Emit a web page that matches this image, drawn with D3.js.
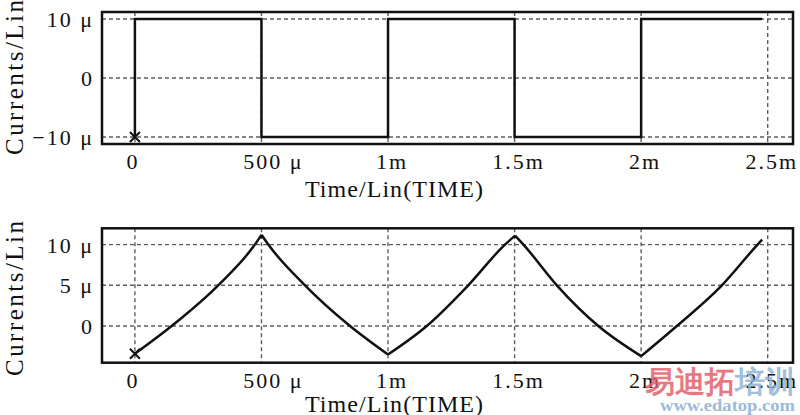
<!DOCTYPE html>
<html>
<head>
<meta charset="utf-8">
<script src="https://cdn.jsdelivr.net/npm/d3@7"></script>
<style>
  html, body { margin: 0; padding: 0; background: #fff; }
  svg { display: block; }
  text { font-family: "Liberation Serif", "DejaVu Serif", serif; fill: #111; }
</style>
</head>
<body>
<svg id="chart" width="800" height="415"></svg>
<script>
// ---- data (time in µs, current in µA) ----
const xTickValues = [0, 500, 1000, 1500, 2000, 2500];
const xTickLabels = ["0", "500 μ", "1m", "1.5m", "2m", "2.5m"];

const squareTicks = [10, 0, -10];
const squareTickLabels = ["10 μ", "0", "−10 μ"];
const squareTime  = [0, 0, 500, 500, 1000, 1000, 1500, 1500, 2000, 2000, 2478];
const squareValue = [-10, 10, 10, -10, -10, 10, 10, -10, -10, 10, 10];

const triTicks = [10, 5, 0];
const triTickLabels = ["10 μ", "5 μ", "0"];
const triTime  = [0, 145, 329, 474, 500, 527, 672, 850, 1000, 1153, 1317, 1462, 1502, 1535, 1667, 1831, 2000, 2141, 2319, 2460, 2478];
const triValue = [-3.4, 0, 5, 10, 11.2, 10, 5, 0, -3.5, 0, 5, 10, 11.1, 10, 5, 0, -3.7, 0, 5, 10, 10.6];

const xTitle = "Time/Lin(TIME)";
const yTitle = "Currents/Lin";

// ---- drawing ----
const svg = d3.select("#chart");

const x = d3.scaleLinear().domain([-130, 2600]).range([102, 793]);

// split a trace into monotone runs (shared turning points) so each run can be smoothed
function monotoneRuns(pts) {
  const runs = [];
  let cur = [pts[0]];
  let dir = 0;
  for (let i = 1; i < pts.length; i++) {
    const d = Math.sign(pts[i][1] - pts[i - 1][1]);
    if (dir !== 0 && d !== 0 && d !== dir) {
      runs.push(cur);
      cur = [pts[i - 1]];
    }
    if (d !== 0) dir = d;
    cur.push(pts[i]);
  }
  runs.push(cur);
  return runs;
}

function panel(cfg) {
  const y = d3.scaleLinear().domain(cfg.yDomain).range([cfg.bottom, cfg.top]);
  const g = svg.append("g");

  // grid
  g.selectAll("line.vg").data(xTickValues).enter().append("line")
    .attr("x1", d => x(d)).attr("x2", d => x(d))
    .attr("y1", cfg.top).attr("y2", cfg.bottom)
    .attr("stroke", "#5e5e5e").attr("stroke-width", 1.4).attr("stroke-dasharray", "4,3");
  g.selectAll("line.hg").data(cfg.yTicks).enter().append("line")
    .attr("x1", x.range()[0]).attr("x2", x.range()[1])
    .attr("y1", d => y(d)).attr("y2", d => y(d))
    .attr("stroke", "#5e5e5e").attr("stroke-width", 1.4).attr("stroke-dasharray", "4,3");

  // trace
  const pts = cfg.t.map((t, i) => [t, cfg.v[i]]);
  if (cfg.smooth) {
    const line = d3.line().x(d => x(d[0])).y(d => y(d[1])).curve(d3.curveMonotoneX);
    g.append("path")
      .attr("d", monotoneRuns(pts).map(r => line(r)).join(""))
      .attr("fill", "none").attr("stroke", "#111").attr("stroke-width", 2.5)
      .attr("stroke-linejoin", "round");
  } else {
    g.append("path").datum(pts)
      .attr("d", d3.line().x(d => x(d[0])).y(d => y(d[1])))
      .attr("fill", "none").attr("stroke", "#111").attr("stroke-width", 2.5);
  }

  // start marker
  const mx = x(pts[0][0]), my = y(pts[0][1]), s = 5;
  g.append("path")
    .attr("d", `M${mx - s},${my - s}L${mx + s},${my + s}M${mx - s},${my + s}L${mx + s},${my - s}`)
    .attr("stroke", "#111").attr("stroke-width", 2);

  // frame
  g.append("rect")
    .attr("x", x.range()[0]).attr("y", cfg.top)
    .attr("width", x.range()[1] - x.range()[0]).attr("height", cfg.bottom - cfg.top)
    .attr("fill", "none").attr("stroke", "#111").attr("stroke-width", 2.5);

  // y tick labels
  g.selectAll("text.yl").data(cfg.yTicks).enter().append("text")
    .attr("x", 94).attr("y", d => y(d)).attr("dy", "0.36em")
    .attr("text-anchor", "end")
    .attr("font-size", 22).attr("letter-spacing", 2)
    .text((d, i) => cfg.yLabels[i]);

  // x tick labels
  g.selectAll("text.xl").data(xTickValues).enter().append("text")
    .attr("x", (d, i) => x(d) + (xTickLabels[i].includes("μ") ? 12 : (d === 0 ? -2 : 4)))
    .attr("y", cfg.bottom + 25)
    .attr("text-anchor", "middle")
    .attr("font-size", 22).attr("letter-spacing", 2)
    .text((d, i) => xTickLabels[i]);

  // x title
  g.append("text")
    .attr("x", 305).attr("y", cfg.bottom + cfg.xTitleGap)
    .attr("font-size", 24)
    .attr("textLength", 178).attr("lengthAdjust", "spacing")
    .text(xTitle);

  // y title
  g.append("text")
    .attr("transform", `translate(23,${cfg.yTitleBottom}) rotate(-90)`)
    .attr("font-size", 25)
    .attr("textLength", 155).attr("lengthAdjust", "spacing")
    .text(yTitle);
}

panel({ top: 12, bottom: 144, yDomain: [-11.2, 11.2], yTicks: squareTicks, yLabels: squareTickLabels,
        t: squareTime, v: squareValue, smooth: false, yTitleBottom: 155, xTitleGap: 53 });
panel({ top: 228.3, bottom: 362.7, yDomain: [-4.5, 12], yTicks: triTicks, yLabels: triTickLabels,
        t: triTime, v: triValue, smooth: true, yTitleBottom: 376, xTitleGap: 49.5 });

// watermark
svg.append("text").attr("x", 645).attr("y", 392)
  .attr("font-family", "Noto Sans CJK SC").attr("font-weight", "bold").attr("font-size", 30)
  .style("fill", "#e4606c").attr("opacity", 0.85).text("易迪拓");
svg.append("text").attr("x", 735).attr("y", 392)
  .attr("font-family", "Noto Sans CJK SC").attr("font-weight", "bold").attr("font-size", 30)
  .style("fill", "#93b3d3").attr("opacity", 0.85).text("培训");
svg.append("text").attr("x", 660).attr("y", 411)
  .attr("font-family", "DejaVu Sans").attr("font-weight", "bold").attr("font-size", 17)
  .attr("textLength", 135).attr("lengthAdjust", "spacingAndGlyphs")
  .style("fill", "#93b3d3").attr("opacity", 0.9).text("www.edatop.com");
</script>
</body>
</html>
